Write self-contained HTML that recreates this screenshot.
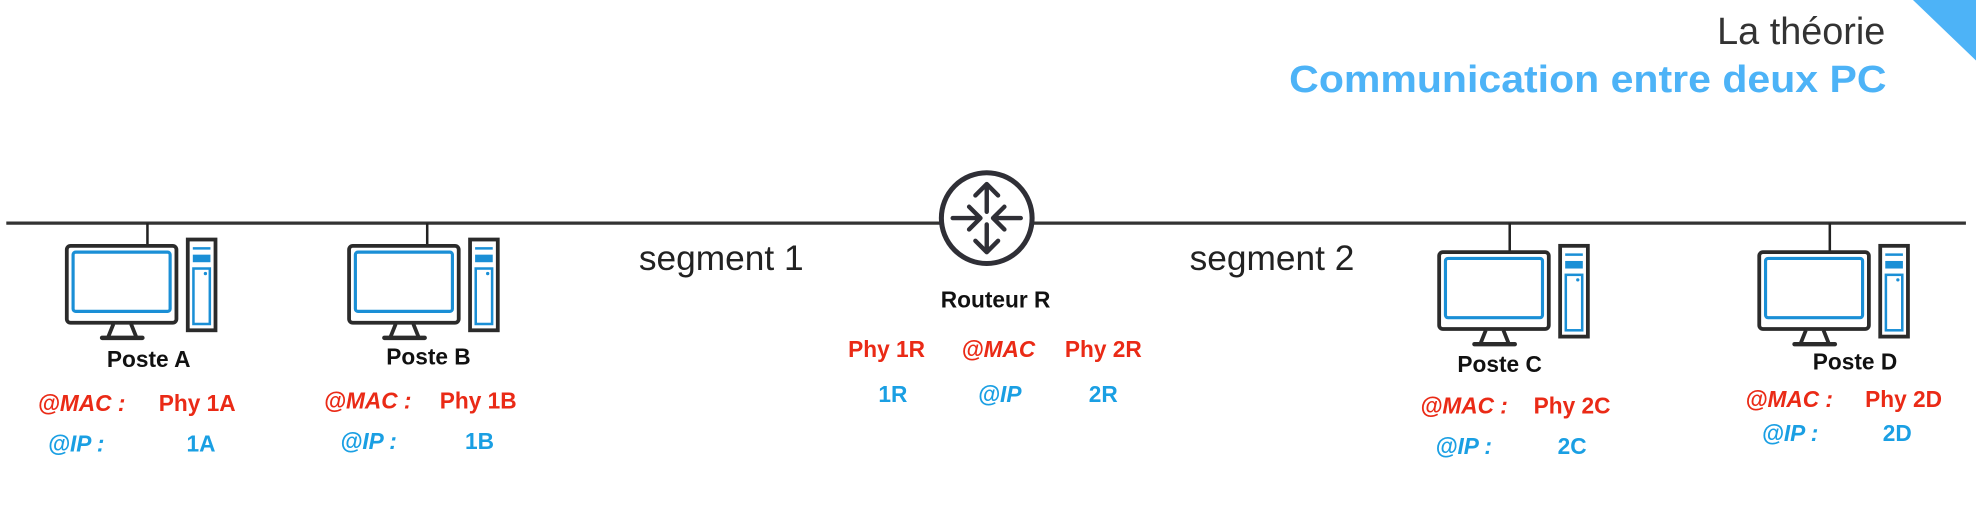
<!DOCTYPE html>
<html><head><meta charset="utf-8"><style>
html,body{margin:0;padding:0;background:#fff;width:1976px;height:532px;overflow:hidden}
svg{display:block}
text{font-family:"Liberation Sans",sans-serif}
.b{font-weight:bold;font-size:18px}
.r{fill:#ea2a16}
.u{fill:#1a9fe3}
.i{font-style:italic}
</style></head><body>
<svg width="1976" height="532" viewBox="0 0 1568 422" preserveAspectRatio="none">
<defs>
<g id="pc">
<rect x="0" y="0" width="87" height="61" rx="3" fill="#fff" stroke="#2b2b2b" stroke-width="3"/>
<rect x="5" y="5" width="77" height="47" rx="2" fill="#fff" stroke="#1a8fd6" stroke-width="2.5"/>
<path d="M37 62 L33 72 M51 62 L55 72" stroke="#2b2b2b" stroke-width="3" fill="none"/>
<line x1="28" y1="73" x2="60" y2="73" stroke="#2b2b2b" stroke-width="3.5" stroke-linecap="round"/>
<rect x="96" y="-5" width="22" height="72" fill="#fff" stroke="#2b2b2b" stroke-width="3"/>
<line x1="100" y1="2" x2="114" y2="2" stroke="#1a8fd6" stroke-width="2"/>
<rect x="100" y="7" width="14" height="6" fill="#1a8fd6"/>
<rect x="100.5" y="18" width="13" height="44" fill="#fff" stroke="#1a8fd6" stroke-width="2"/>
<circle cx="110" cy="22" r="1.3" fill="#1a8fd6"/>
</g>
</defs>
<polygon points="1518,0 1568,0 1568,48" fill="#4db3f7"/>
<text x="1496" y="35" text-anchor="end" font-size="30" fill="#333" font-weight="300">La théorie</text>
<text x="1023" y="73" font-size="30" fill="#4db3f7" font-weight="bold" textLength="474" lengthAdjust="spacingAndGlyphs">Communication entre deux PC</text>
<line x1="5" y1="177" x2="1560" y2="177" stroke="#333" stroke-width="2.5"/>
<line x1="117" y1="177" x2="117" y2="195" stroke="#222" stroke-width="2"/>
<line x1="339" y1="177" x2="339" y2="195" stroke="#222" stroke-width="2"/>
<line x1="1198" y1="177" x2="1198" y2="200" stroke="#222" stroke-width="2"/>
<line x1="1452" y1="177" x2="1452" y2="200" stroke="#222" stroke-width="2"/>
<use href="#pc" x="53" y="195"/>
<use href="#pc" x="277" y="195"/>
<use href="#pc" x="1142" y="200"/>
<use href="#pc" x="1396" y="200"/>
<circle cx="783" cy="173" r="36" fill="#fff" stroke="#2f2f36" stroke-width="4"/>
<g stroke="#2f2f36" stroke-width="3.5" fill="none" stroke-linecap="round" stroke-linejoin="round">
<path d="M783 168 V146 M774 155 L783 146 L792 155"/>
<path d="M783 178 V200 M774 191 L783 200 L792 191"/>
<path d="M756 173 H778 M769 164 L778 173 L769 182"/>
<path d="M810 173 H788 M797 164 L788 173 L797 182"/>
</g>
<text x="507" y="214" font-size="28" fill="#222">segment 1</text>
<text x="944" y="214" font-size="28" fill="#222">segment 2</text>
<text class="b" x="790" y="244" text-anchor="middle" fill="#111">Routeur R</text>
<text class="b" x="118" y="291" text-anchor="middle" fill="#111">Poste A</text>
<text class="b" x="340" y="289" text-anchor="middle" fill="#111">Poste B</text>
<text class="b" x="1190" y="295" text-anchor="middle" fill="#111">Poste C</text>
<text class="b" x="1472" y="293" text-anchor="middle" fill="#111">Poste D</text>
<g class="b">
<text class="r i" x="30" y="326">@MAC :</text><text class="r" x="126" y="326">Phy 1A</text>
<text class="u i" x="38" y="358">@IP :</text><text class="u" x="148" y="358">1A</text>
<text class="r i" x="257" y="324">@MAC :</text><text class="r" x="349" y="324">Phy 1B</text>
<text class="u i" x="270" y="356">@IP :</text><text class="u" x="369" y="356">1B</text>
<text class="r" x="673" y="283">Phy 1R</text><text class="r i" x="763" y="283">@MAC</text><text class="r" x="845" y="283">Phy 2R</text>
<text class="u" x="697" y="319">1R</text><text class="u i" x="776" y="319">@IP</text><text class="u" x="864" y="319">2R</text>
<text class="r i" x="1127" y="328">@MAC :</text><text class="r" x="1217" y="328">Phy 2C</text>
<text class="u i" x="1139" y="360">@IP :</text><text class="u" x="1236" y="360">2C</text>
<text class="r i" x="1385" y="323">@MAC :</text><text class="r" x="1480" y="323">Phy 2D</text>
<text class="u i" x="1398" y="350">@IP :</text><text class="u" x="1494" y="350">2D</text>
</g>
</svg>
</body></html>
